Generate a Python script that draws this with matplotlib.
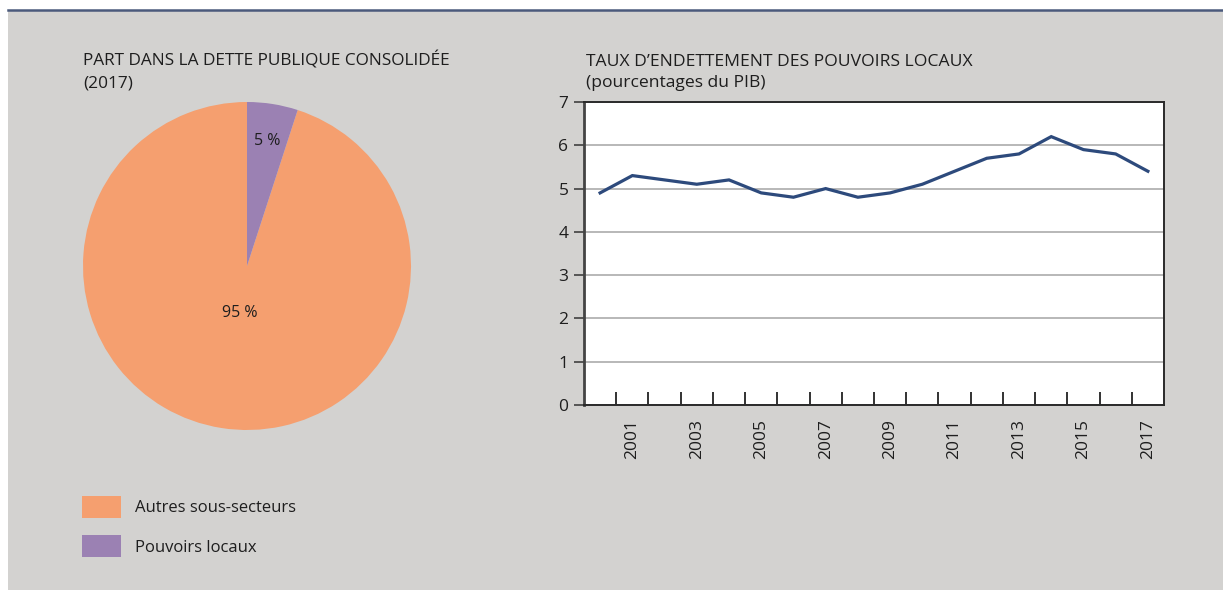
import matplotlib
matplotlib.use("Agg")
import matplotlib.pyplot as plt
from matplotlib.patches import Rectangle
from matplotlib.lines import Line2D
import numpy as np

# ---- data ----
pie_labels = ["Autres sous-secteurs", "Pouvoirs locaux"]
pie_values = [95, 5]
pie_texts = ["95 %", "5 %"]
years = [2000, 2001, 2002, 2003, 2004, 2005, 2006, 2007, 2008, 2009,
         2010, 2011, 2012, 2013, 2014, 2015, 2016, 2017]
debt_ratio = [4.9, 5.3, 5.2, 5.1, 5.2, 4.9, 4.8, 5.0, 4.8, 4.9,
              5.1, 5.4, 5.7, 5.8, 6.2, 5.9, 5.8, 5.4]
title_left = "PART DANS LA DETTE PUBLIQUE CONSOLIDÉE"
subtitle_left = "(2017)"
title_right = "TAUX D\u2019ENDETTEMENT DES POUVOIRS LOCAUX"
subtitle_right = "(pourcentages du PIB)"

plt.rcParams['font.family'] = ['Open Sans', 'DejaVu Sans']

W, H = 1223, 590
fig = plt.figure(figsize=(W / 100, H / 100), dpi=100)
fig.patch.set_facecolor("white")

BG = "#d3d2d0"
TXT = "#1e1e1e"
PT = 72 / 100  # points per pixel
# background panel and top rule
fig.patches.append(Rectangle((8 / W, 0), 1 - 8 / W, 1 - 11 / H, transform=fig.transFigure,
                             facecolor=BG, edgecolor="none", zorder=-10))
fig.add_artist(Line2D([8 / W, 1], [1 - 9.5 / H, 1 - 9.5 / H], transform=fig.transFigure,
                      color="#4b5a7c", lw=1.8))

# ---- pie ----
cx, cy, r = 247, 266, 164
axp = fig.add_axes([(cx - r) / W, (H - cy - r) / H, 2 * r / W, 2 * r / H])
colors = ["#f59f6f", "#9b81b3"]
wedges, _ = axp.pie(pie_values, colors=colors, startangle=90, counterclock=True,
                    wedgeprops=dict(linewidth=0))
axp.set_xlim(-1, 1)
axp.set_ylim(-1, 1)
axp.set_aspect("equal")
axp.axis("off")
dists = [0.29, 0.77]
for w, t, d in zip(wedges, pie_texts, dists):
    ang = np.deg2rad((w.theta1 + w.theta2) / 2)
    axp.text(d * np.cos(ang), d * np.sin(ang), t, ha="center", va="center",
             fontsize=11.5, color=TXT)

fig.text(83 / W, 1 - 66 / H, title_left, fontsize=12.4, color=TXT, ha="left", va="baseline")
fig.text(83 / W, 1 - 87 / H, subtitle_left, fontsize=12.4, color=TXT, ha="left", va="baseline")

leg = fig.legend(wedges, pie_labels, loc="upper left", bbox_to_anchor=(82 / W, 1 - 496 / H),
                 frameon=False, fontsize=12, handlelength=2.35, handleheight=1.65,
                 handletextpad=0.85, labelspacing=1.05, borderpad=0, borderaxespad=0,
                 labelcolor=TXT)

# ---- line ----
axl = fig.add_axes([584 / W, (H - 405) / H, 580 / W, 303 / H])
axl.set_facecolor("white")
x = np.arange(len(years))
axl.plot(x, debt_ratio, color="#2d4a7c", lw=2.3, solid_joinstyle="miter", zorder=3)
axl.set_xlim(-0.5, len(years) - 0.5)
axl.set_ylim(0, 7)
axl.set_yticks(range(0, 8))
axl.yaxis.grid(True, color="#ababab", lw=1.2)
axl.set_axisbelow(True)
lab_idx = [i for i, y in enumerate(years) if y % 2 == 1]
axl.set_xticks(lab_idx)
axl.set_xticklabels([str(years[i]) for i in lab_idx], rotation=90)
axl.set_xticks(np.arange(0.5, len(years) - 1, 1.0), minor=True)
axl.tick_params(axis="x", which="major", length=0, pad=14 * PT, labelsize=12.5, labelcolor=TXT)
axl.tick_params(axis="x", which="minor", direction="in", length=13 * PT, width=1.3, color="#222")
axl.tick_params(axis="y", direction="out", length=10 * PT, width=1.1, color="#333",
                labelsize=12.5, labelcolor=TXT, pad=4)
for s in axl.spines.values():
    s.set_color("#2a2a2a")
    s.set_linewidth(1.4)
axl.spines["left"].set_color("#444")
axl.spines["left"].set_linewidth(2)

fig.text(586 / W, 1 - 66 / H, title_right, fontsize=12.6, color=TXT, ha="left", va="baseline")
fig.text(586 / W, 1 - 87 / H, subtitle_right, fontsize=12.6, color=TXT, ha="left", va="baseline")

fig.savefig("out.png", dpi=100, facecolor=fig.get_facecolor())
